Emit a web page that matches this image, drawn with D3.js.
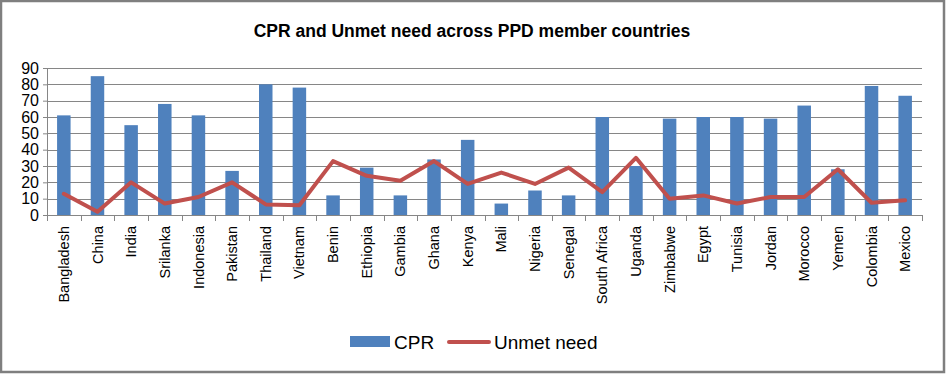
<!DOCTYPE html>
<html>
<head>
<meta charset="utf-8">
<script src="https://cdn.jsdelivr.net/npm/d3@7"></script>
<style>
  body { margin: 0; background: #fff; }
  text { font-family: "Liberation Sans", Arial, sans-serif; fill: #000; }
</style>
</head>
<body>
<div id="vis"></div>
<script>
// frame
const FRAME_WIDTH = 946;
const FRAME_HEIGHT = 374;
const MARGINS = {left: 47, right: 24, top: 68, bottom: 159};

// data
const countries = ["Bangladesh", "China", "India", "Srilanka", "Indonesia", "Pakistan",
  "Thailand", "Vietnam", "Benin", "Ethiopia", "Gambia", "Ghana", "Kenya", "Mali",
  "Nigeria", "Senegal", "South Africa", "Uganda", "Zimbabwe", "Egypt", "Tunisia",
  "Jordan", "Morocco", "Yemen", "Colombia", "Mexico"];
const cpr = [61, 85, 55, 68, 61, 27, 80, 78, 12, 29, 12, 34, 46, 7, 15, 12, 60, 30,
  59, 60, 60, 59, 67, 28, 79, 73];
const unmet = [13, 2, 20, 7, 11, 20, 6.5, 6, 33, 24, 21, 33, 19, 26, 19, 29, 14, 35,
  10, 12, 7, 11, 11, 28, 7.5, 9];
const yTicks = [0, 10, 20, 30, 40, 50, 60, 70, 80, 90];

const VIS_WIDTH = FRAME_WIDTH - MARGINS.left - MARGINS.right;
const VIS_HEIGHT = FRAME_HEIGHT - MARGINS.top - MARGINS.bottom;

const svg = d3.select("#vis")
  .append("svg")
    .attr("width", FRAME_WIDTH)
    .attr("height", FRAME_HEIGHT);

// outer border
svg.append("rect")
  .attr("x", 1).attr("y", 1)
  .attr("width", FRAME_WIDTH - 3).attr("height", FRAME_HEIGHT - 3)
  .attr("fill", "#fff")
  .attr("stroke", "#7f7f7f")
  .attr("stroke-width", 2.5);

const X_SCALE = d3.scaleBand()
  .domain(countries)
  .range([0, VIS_WIDTH]);

const Y_SCALE = d3.scaleLinear()
  .domain([0, 90])
  .range([VIS_HEIGHT, 0]);

const g = svg.append("g")
  .attr("transform", "translate(" + MARGINS.left + "," + MARGINS.top + ")");

// gridlines
g.append("g")
  .selectAll("line")
  .data(yTicks.slice(1))
  .enter()
  .append("line")
    .attr("x1", 0).attr("x2", VIS_WIDTH)
    .attr("y1", d => Math.round(Y_SCALE(d)) + 0.5)
    .attr("y2", d => Math.round(Y_SCALE(d)) + 0.5)
    .attr("stroke", "#868686")
    .attr("stroke-width", 1);

// y axis
const yAxis = g.append("g")
  .call(d3.axisLeft(Y_SCALE).tickValues(yTicks).tickSize(4).tickPadding(4));
yAxis.select(".domain").attr("stroke", "#868686");
yAxis.selectAll(".tick line").attr("stroke", "#868686");
yAxis.selectAll("text")
  .attr("font-size", "16px")
  .attr("font-family", "'Liberation Sans', Arial, sans-serif");

// bars
const barW = 13.5;
g.selectAll(".bar")
  .data(cpr)
  .enter()
  .append("rect")
    .attr("class", "bar")
    .attr("x", (d, i) => X_SCALE(countries[i]) + X_SCALE.bandwidth() / 2 - barW / 2)
    .attr("y", d => Y_SCALE(d))
    .attr("width", barW)
    .attr("height", d => VIS_HEIGHT - Y_SCALE(d))
    .attr("fill", "#4f81bd");

// x axis
const xAxis = g.append("g")
  .attr("transform", "translate(0," + VIS_HEIGHT + ")")
  .call(d3.axisBottom(X_SCALE).tickSize(0).tickPadding(0));
xAxis.select(".domain").attr("stroke", "#868686");
xAxis.selectAll(".tick text")
  .attr("transform", "rotate(-90)")
  .attr("text-anchor", "end")
  .attr("dy", "0.35em")
  .attr("x", -11)
  .attr("y", 0)
  .attr("font-size", "14.5px")
  .attr("font-family", "'Liberation Sans', Arial, sans-serif");

// category boundary ticks
xAxis.append("g")
  .selectAll("line")
  .data(countries.concat(["end"]))
  .enter()
  .append("line")
    .attr("x1", (d, i) => Math.round(i * X_SCALE.step()) + 0.5)
    .attr("x2", (d, i) => Math.round(i * X_SCALE.step()) + 0.5)
    .attr("y1", 0).attr("y2", 6)
    .attr("stroke", "#868686");

// unmet need line
const line = d3.line()
  .x((d, i) => X_SCALE(countries[i]) + X_SCALE.bandwidth() / 2)
  .y(d => Y_SCALE(d));

g.append("path")
  .datum(unmet)
  .attr("d", line)
  .attr("fill", "none")
  .attr("stroke", "#c0504d")
  .attr("stroke-width", 4)
  .attr("stroke-linejoin", "round")
  .attr("stroke-linecap", "round");

// title
svg.append("text")
  .attr("x", 472)
  .attr("y", 37)
  .attr("text-anchor", "middle")
  .attr("font-size", "17.5px")
  .attr("font-weight", "bold")
  .text("CPR and Unmet need across PPD member countries");

// legend
const legend = svg.append("g");
legend.append("rect")
  .attr("x", 350).attr("y", 336)
  .attr("width", 40).attr("height", 11)
  .attr("fill", "#4f81bd");
legend.append("text")
  .attr("x", 394).attr("y", 349)
  .attr("font-size", "19px")
  .text("CPR");
legend.append("line")
  .attr("x1", 449).attr("x2", 489)
  .attr("y1", 342).attr("y2", 342)
  .attr("stroke", "#c0504d")
  .attr("stroke-width", 4)
  .attr("stroke-linecap", "round");
legend.append("text")
  .attr("x", 494).attr("y", 349)
  .attr("font-size", "19px")
  .text("Unmet need");
</script>
</body>
</html>
